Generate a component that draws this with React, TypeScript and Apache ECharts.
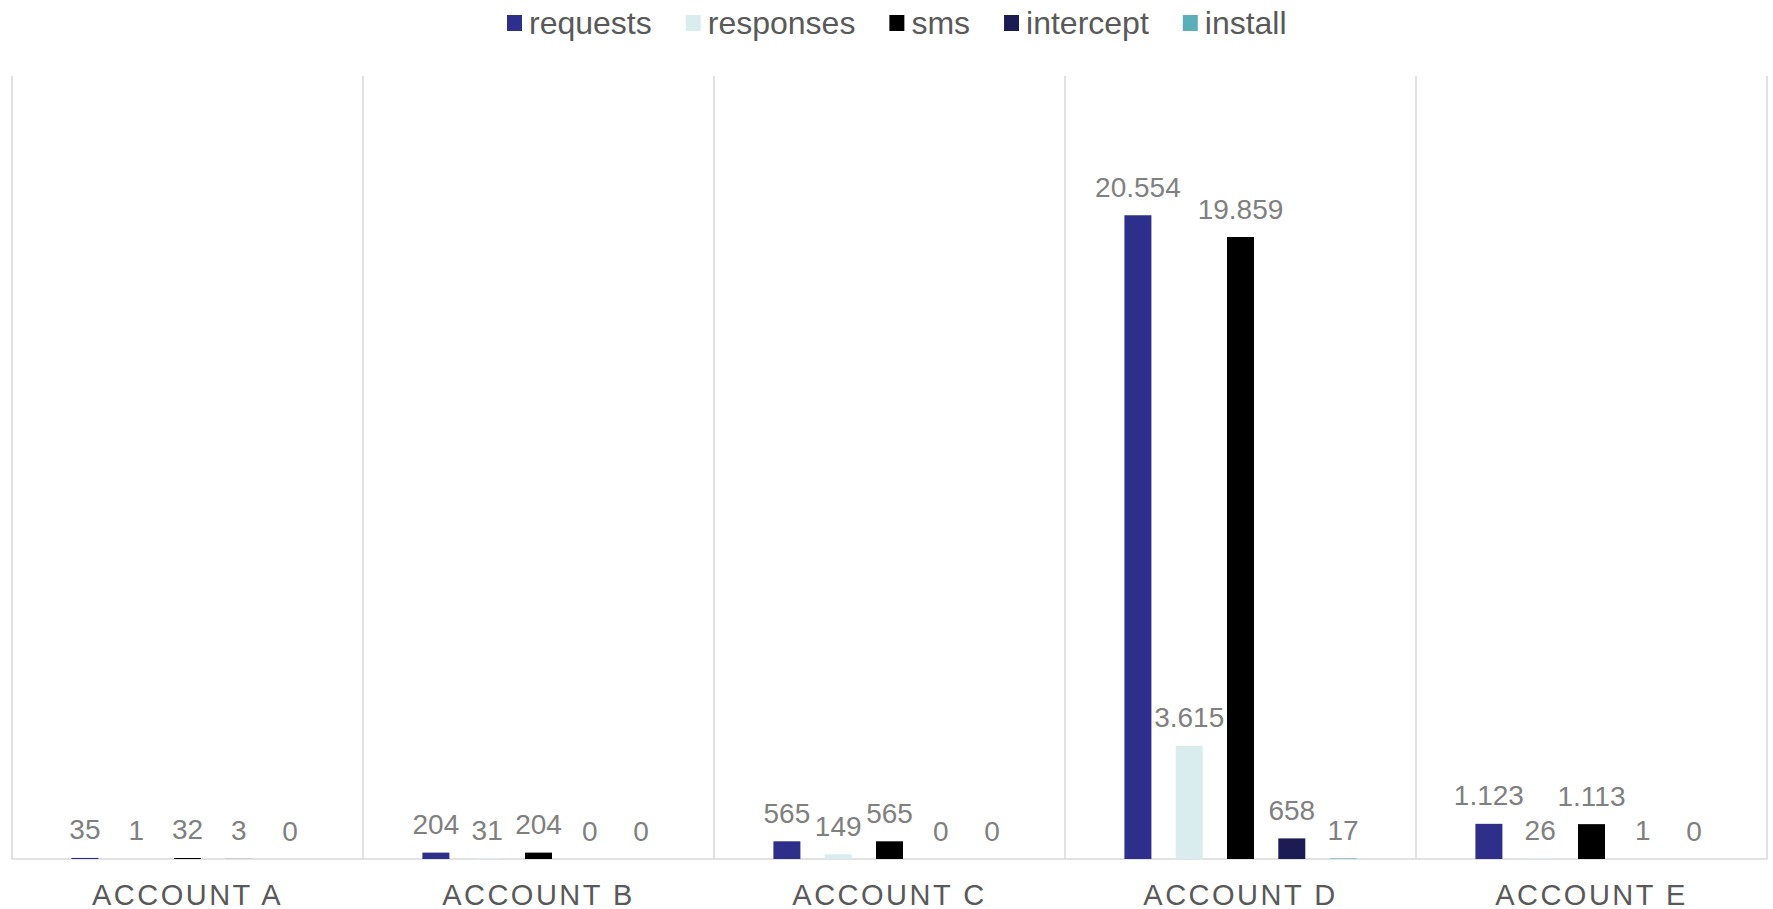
import React, { useEffect, useRef } from "react";
import * as echarts from "echarts";

const categories = ["ACCOUNT A", "ACCOUNT B", "ACCOUNT C", "ACCOUNT D", "ACCOUNT E"];
const seriesNames = ["requests", "responses", "sms", "intercept", "install"];
const requests = [35, 204, 565, 20554, 1123];
const responses = [1, 31, 149, 3615, 26];
const sms = [32, 204, 565, 19859, 1113];
const intercept = [3, 0, 0, 658, 1];
const install = [0, 0, 0, 17, 0];
const seriesColors = ["#2E2E8B", "#D9ECEE", "#000000", "#1C1C55", "#5AAFB9"];

const fmt = (v: number) => String(Math.round(v)).replace(/\B(?=(\d{3})+(?!\d))/g, ".");

export default function App() {
  const ref = useRef<HTMLDivElement>(null);
  useEffect(() => {
    document.body.style.margin = "0";
    const chart = echarts.init(ref.current!, null, { renderer: "svg" });
    const values = [requests, responses, sms, intercept, install];
    chart.setOption({
      animation: false,
      backgroundColor: "#ffffff",
      textStyle: { fontFamily: "Liberation Sans, Arial, sans-serif" },
      legend: {
        left: 502,
        top: 2,
        icon: "rect",
        itemWidth: 15,
        itemHeight: 16,
        itemGap: 34,
        textStyle: { fontSize: 32, color: "#595959", padding: [0, 0, 0, 2] },
        data: seriesNames,
      },
      grid: { left: 12, right: 6, top: 76, bottom: 49, containLabel: false },
      xAxis: {
        type: "category",
        data: categories,
        axisLine: { lineStyle: { color: "#D9D9D9", width: 1.5 } },
        axisTick: { show: false },
        axisLabel: { fontSize: 29, color: "#595959", margin: 21, interval: 0 },
        splitLine: { show: true, interval: 0, lineStyle: { color: "#D9D9D9", width: 1.5 } },
      },
      yAxis: {
        type: "value",
        min: 0,
        max: 25000,
        show: false,
        splitLine: { show: false },
      },
      series: seriesNames.map((name, i) => ({
        name,
        type: "bar",
        data: values[i],
        barWidth: 27,
        barGap: "90%",
        itemStyle: { color: seriesColors[i] },
        label: {
          show: true,
          position: "top",
          distance: 14,
          fontSize: 28,
          color: "#808080",
          formatter: (p: any) => fmt(p.value),
        },
      })),
    });
    return () => chart.dispose();
  }, []);
  return (
    <>
      <style>{`#chartbox text[style*="29px"] { letter-spacing: 2.5px; }`}</style>
      <div id="chartbox" ref={ref} style={{ width: 1773, height: 909 }} />
    </>
  );
}
